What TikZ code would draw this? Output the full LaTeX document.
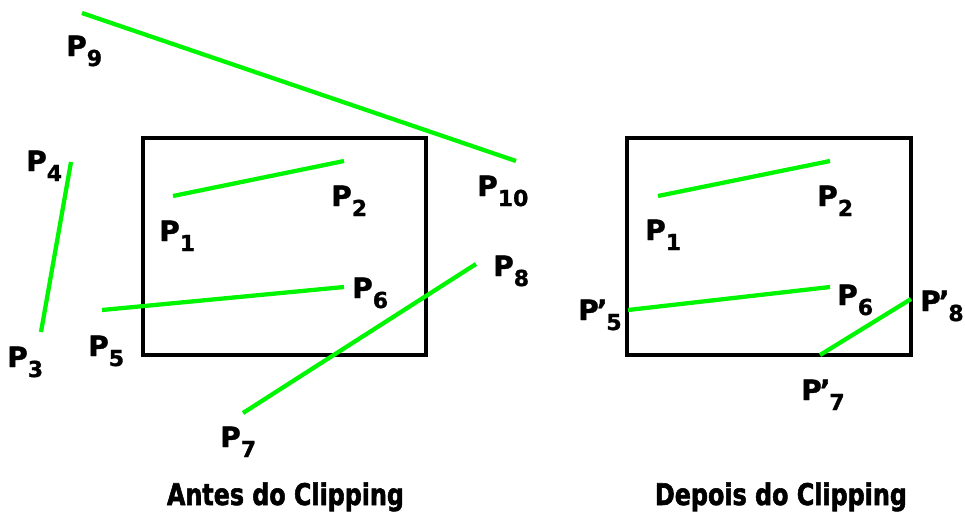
\documentclass[tikz,border=0pt]{standalone}
\usepackage{fontspec}
\setmainfont{DejaVu Sans}
\newfontfamily\labfont{DejaVu Sans Bold}[FakeBold=1.2]
\newfontfamily\capfont{DejaVu Sans Condensed Bold}[FakeBold=2]
\definecolor{linegreen}{RGB}{0,245,0}
\newcommand\plab[2]{P#1\raisebox{-7.5pt}{\fontsize{16.5}{16.5}\selectfont #2}}
\newcommand\pprime{\kern-1.5pt’\kern-0.8pt}
\tikzset{
  seg/.style={draw=linegreen,line width=3.2pt},
  win/.style={draw=black,line width=2.8pt},
  lab/.style={anchor=base west,inner sep=0pt,font=\fontsize{21}{21}\selectfont\labfont},
  captext/.style={anchor=base,inner sep=0pt,font=\fontsize{22}{22}\selectfont\capfont}
}
\begin{document}
\begin{tikzpicture}[x=0.75pt,y=-0.75pt]
\useasboundingbox (0,0) rectangle (965,512);
% windows
\draw[win] (143,138) rectangle (426,355);
\draw[win] (627,138) rectangle (911,355);
% left endpoints
\coordinate (a1) at (173,196);
\coordinate (a2) at (344,161);
\coordinate (a3) at (41,332);
\coordinate (a4) at (71,162);
\coordinate (a5) at (102,310);
\coordinate (a6) at (344,287);
\coordinate (a7) at (243,413);
\coordinate (a8) at (476,264);
\coordinate (a9) at (82,13);
\coordinate (a10) at (516,161);
\draw[seg] (a1) -- (a2);
\draw[seg] (a3) -- (a4);
\draw[seg] (a5) -- (a6);
\draw[seg] (a7) -- (a8);
\draw[seg] (a9) -- (a10);
% right endpoints
\coordinate (b1) at (658,196);
\coordinate (b2) at (830,161);
\coordinate (b5) at (628,310);
\coordinate (b6) at (830,287);
\coordinate (b7) at (820,355);
\coordinate (b8) at (911,299);
\draw[seg] (b1) -- (b2);
\draw[seg] (b5) -- (b6);
\draw[seg] (b7) -- (b8);
% labels left
\node[lab] (l9) at (66,56) {\plab{}{9}};
\node[lab] (l4) at (26,171) {\plab{}{4}};
\node[lab] (l1) at (159,241) {\plab{}{1}};
\node[lab] (l2) at (331,206) {\plab{}{2}};
\node[lab] (l10) at (477,196) {\plab{}{10}};
\node[lab] (l3) at (7,367) {\plab{}{3}};
\node[lab] (l5) at (88,356) {\plab{}{5}};
\node[lab] (l6) at (352,298) {\plab{}{6}};
\node[lab] (l7) at (220,447) {\plab{}{7}};
\node[lab] (l8) at (493,276) {\plab{}{8}};
% labels right
\node[lab] (r1) at (645,240) {\plab{}{1}};
\node[lab] (r2) at (817,206) {\plab{}{2}};
\node[lab] (r6) at (837,305) {\plab{}{6}};
\node[lab] (r5) at (578,320) {\plab{\pprime}{5}};
\node[lab] (r8) at (920,311) {\plab{\pprime}{8}};
\node[lab] (r7) at (801,400) {\plab{\pprime}{7}};
% captions
\node[captext] (c1) at (285.5,505) {\resizebox{177.75pt}{17pt}{Antes do Clipping}};
\node[captext] (c2) at (781,505) {\resizebox{189pt}{17pt}{Depois do Clipping}};
\end{tikzpicture}
\end{document}
